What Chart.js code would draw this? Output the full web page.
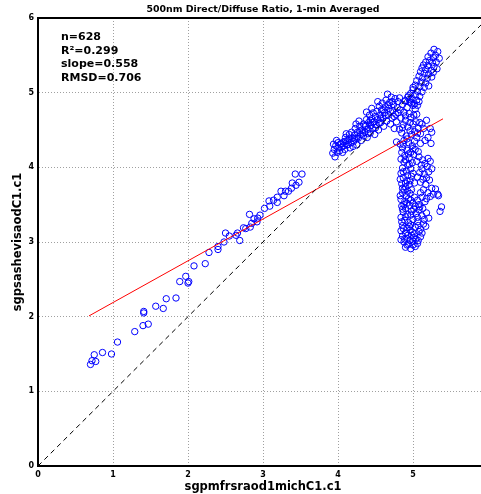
<!DOCTYPE html>
<html>
<head>
<meta charset="utf-8">
<script src="https://cdn.jsdelivr.net/npm/chart.js@4.4.1/dist/chart.umd.min.js"></script>
<style>
  html, body { margin: 0; padding: 0; background: #fff; overflow: hidden; }
  #wrap { width: 481px; height: 494px; overflow: hidden; }
</style>
</head>
<body>
<div id="wrap"><canvas id="scatterChart" width="495" height="494"></canvas></div>
<script>
// --- chart data ---
const chartTitle = '500nm Direct/Diffuse Ratio, 1-min Averaged';
const xTitle = 'sgpmfrsraod1michC1.c1';
const yTitle = 'sgpsashevisaodC1.c1';
const statLines = ['n=628', 'R\u00b2=0.299', 'slope=0.558', 'RMSD=0.706'];
const axisTicks = [0, 1, 2, 3, 4, 5, 6];

// linear fit (red) and 1:1 line (dashed)
const fitX = [0.68, 5.40];
const fitY = [2.01, 4.65];
const oneToOneX = [0, 6];
const oneToOneY = [0, 6];

// scattered low part
const lowPoints = [
  [0.70,1.36],[0.72,1.41],[0.75,1.49],[0.77,1.40],[0.86,1.52],[0.98,1.50],[1.06,1.66],
  [1.29,1.80],[1.40,1.88],[1.47,1.90],[1.41,2.05],[1.41,2.07],[1.57,2.14],[1.67,2.11],
  [1.71,2.24],[1.84,2.25],[1.89,2.47],[1.97,2.54],[2.00,2.45],[2.01,2.47],[2.08,2.68],
  [2.23,2.71],[2.28,2.86],[2.40,2.90],[2.40,2.94],[2.48,3.00],[2.50,3.12],[2.55,3.08],
  [2.64,3.09],[2.66,3.12],[2.69,3.02],[2.74,3.19],[2.77,3.18],[2.82,3.37],[2.83,3.20],
  [2.85,3.25],[2.88,3.31],[2.92,3.27],[2.93,3.32],[2.96,3.36],[3.02,3.45],[3.09,3.48],
  [3.08,3.55],[3.14,3.56],[3.19,3.60],[3.19,3.53],[3.24,3.68],[3.28,3.62],[3.30,3.68],
  [3.34,3.68],[3.38,3.72],[3.39,3.79],[3.44,3.76],[3.48,3.80],[3.43,3.91],[3.52,3.91]
];

// rising band 3.9 - 4.8
const bandPoints = [
  [3.93,4.19],[3.95,4.24],[3.97,4.29],[3.94,4.31],[3.99,4.20],[4.00,4.26],[3.96,4.14],
  [4.02,4.22],[4.03,4.31],[4.05,4.27],[3.98,4.36],[4.07,4.34],[4.09,4.24],[4.10,4.40],
  [4.12,4.30],[4.13,4.36],[4.15,4.44],[4.16,4.26],[4.17,4.33],[4.19,4.39],[4.11,4.45],
  [4.08,4.29],[4.18,4.47],[4.21,4.35],[4.22,4.43],[4.23,4.52],[4.25,4.30],[4.26,4.47],
  [4.27,4.39],[4.29,4.55],[4.30,4.44],[4.31,4.36],[4.32,4.50],[4.34,4.58],[4.34,4.42],
  [4.24,4.58],[4.28,4.62],[4.36,4.47],[4.37,4.55],[4.38,4.64],[4.39,4.40],[4.40,4.51],
  [4.41,4.60],[4.42,4.70],[4.43,4.46],[4.44,4.56],[4.45,4.65],[4.46,4.52],[4.47,4.73],
  [4.48,4.61],[4.49,4.44],[4.50,4.68],[4.38,4.74],[4.45,4.79],[4.51,4.57],[4.52,4.75],
  [4.53,4.64],[4.54,4.50],[4.55,4.82],[4.56,4.70],[4.57,4.60],[4.58,4.77],[4.59,4.86],
  [4.60,4.66],[4.61,4.55],[4.62,4.73],[4.63,4.81],[4.64,4.90],[4.65,4.62],[4.53,4.88],
  [4.66,4.98],[4.67,4.70],[4.68,4.79],[4.69,4.87],[4.70,4.58],[4.71,4.94],[4.72,4.66],
  [4.73,4.76],[4.74,4.84],[4.75,4.52],[4.76,4.92],[4.77,4.71],[4.78,4.61],[4.79,4.80],
  [4.80,4.88],[4.78,4.34],[4.00,4.33],[4.06,4.20],[4.14,4.31],[4.20,4.28],[4.25,4.39],
  [4.33,4.46],[4.40,4.45],[4.46,4.60],[4.55,4.59],[4.60,4.77],[4.67,4.84],[4.72,4.88],
  [4.82,4.93],[4.80,4.73],[4.75,4.68],[4.70,4.75],[4.63,4.69],[4.57,4.66],[4.50,4.53],
  [4.43,4.63],[4.36,4.56],[4.29,4.49],[4.22,4.38],[4.15,4.38],[4.10,4.35],[4.04,4.32]
];

// top cluster 4.9 - 5.6
const topPoints = [
  [5.28,5.58],[5.33,5.55],[5.24,5.53],[5.30,5.50],[5.20,5.48],[5.27,5.47],[5.35,5.46],
  [5.22,5.43],[5.17,5.41],[5.26,5.40],[5.31,5.41],[5.14,5.37],[5.20,5.36],[5.28,5.35],
  [5.12,5.33],[5.17,5.31],[5.24,5.30],[5.32,5.32],[5.10,5.28],[5.15,5.26],[5.21,5.25],
  [5.27,5.27],[5.08,5.22],[5.13,5.20],[5.19,5.19],[5.25,5.21],[5.05,5.16],[5.11,5.14],
  [5.17,5.13],[5.03,5.10],[5.09,5.08],[5.15,5.07],[5.21,5.09],[5.00,5.04],[5.06,5.02],
  [5.12,5.01],[4.97,4.99],[5.03,4.97],[5.09,4.95],[4.93,4.94],[4.99,4.92],[5.05,4.90],
  [4.90,4.89],[4.96,4.87],[5.02,4.85],[5.08,4.88],[4.94,4.96],[5.00,5.07]
];

// vertical column near x = 5
const columnPoints = [
  [4.86,4.84],[4.92,4.80],[4.98,4.86],[5.03,4.78],[4.88,4.74],[4.95,4.72],[5.06,4.83],
  [5.01,4.70],[4.84,4.66],[4.90,4.63],[4.97,4.67],[5.04,4.61],[4.87,4.57],[4.93,4.54],
  [5.00,4.58],[5.07,4.52],[4.82,4.51],[4.96,4.49],[4.85,4.46],[4.91,4.42],[4.98,4.44],
  [5.05,4.40],[4.88,4.36],[4.94,4.33],[5.02,4.35],[4.83,4.31],[4.99,4.29],[5.14,4.52],
  [5.18,4.63],[5.23,4.52],[5.25,4.47],[5.24,4.32],[5.10,4.45],[5.12,4.58],[5.20,4.40],
  [5.16,4.36],[4.86,4.26],[4.92,4.23],[4.97,4.20],[5.03,4.24],[4.89,4.16],[4.95,4.13],
  [5.01,4.17],[4.84,4.11],[5.08,4.14],[5.13,4.10],[5.20,4.12],[5.16,4.05],[5.23,4.08],
  [4.88,4.07],[4.93,4.03],[4.99,4.06],[4.86,3.99],[4.91,3.95],[4.97,3.98],[5.06,3.87],
  [4.84,3.92],[5.12,3.98],[5.19,4.01],[5.21,3.94],[5.15,3.91],[5.25,3.98],[5.18,3.86],
  [4.87,3.86],[4.92,3.82],[4.98,3.88],[4.85,3.78],[4.90,3.74],[4.95,3.77],[5.02,3.79],
  [4.88,3.70],[5.10,3.80],[5.17,3.77],[5.22,3.83],[5.25,3.72],[5.14,3.70],[5.20,3.66],
  [5.27,3.64],[5.33,3.64],[5.30,3.71],[4.86,3.66],[4.91,3.62],[4.96,3.65],[5.02,3.60],
  [4.84,3.57],[4.89,3.54],[4.94,3.58],[5.00,3.52],[5.06,3.56],[5.12,3.60],[5.18,3.58],
  [5.23,3.61],[5.34,3.62],[5.08,3.50],[4.85,3.48],[4.90,3.45],[4.95,3.49],[5.01,3.44],
  [5.09,3.47],[5.08,3.43],[4.87,3.40],[4.93,3.37],[4.98,3.41],[5.04,3.38],[5.12,3.35],
  [5.18,3.39],[4.84,3.33],[5.38,3.47],[5.36,3.41],[5.21,3.32],[4.89,3.29],[4.94,3.26],
  [5.00,3.30],[5.06,3.27],[5.14,3.24],[4.86,3.22],[4.92,3.19],[4.97,3.23],[5.03,3.20],
  [5.10,3.17],[5.17,3.21],[4.84,3.15],[4.90,3.12],[4.96,3.16],[5.02,3.11],[5.08,3.14],
  [4.86,3.08],[4.92,3.05],[4.98,3.09],[5.04,3.04],[4.88,3.00],[4.94,2.97],[5.00,3.01],
  [5.06,2.98],[4.90,2.93],[4.97,2.91],[5.03,2.94],[4.84,3.03],[5.10,3.07],
  [4.89,4.89],[4.95,4.91],[5.00,4.83],[4.83,4.77],[4.90,4.69],[4.96,4.60],[4.86,4.53],
  [5.02,4.48],[4.92,4.38],[4.87,4.31],[5.00,4.25],[4.94,4.18],[4.85,4.20],[4.90,4.10],
  [5.05,4.08],[4.95,4.04],[4.87,3.94],[5.00,3.92],[4.93,3.89],[4.83,3.84],[4.96,3.82],
  [4.90,3.79],[4.86,3.72],[4.98,3.70],[4.93,3.68],[4.83,3.62],[4.97,3.56],[4.88,3.50],
  [4.92,3.52],[5.03,3.48],[4.86,3.44],[4.97,3.36],[4.90,3.34],[5.06,3.33],[4.85,3.27],
  [4.95,3.21],[5.07,3.22],[4.87,3.18],[4.99,3.13],[4.93,3.09],[5.01,3.06],[4.89,3.04],
  [4.96,3.02],[4.92,2.96],[5.00,2.96],[5.07,3.02],[5.12,3.12],[5.15,3.30],[5.13,3.45],
  [5.16,3.54],[5.10,3.66],[5.13,3.84],[5.09,3.93],[5.11,4.03],[5.07,4.21],[5.10,4.32],
  [5.06,4.46],[5.09,4.60],[5.05,4.71]
];

const FONT = "'DejaVu Sans', sans-serif";

function toXY(xs, ys) {
  return xs.map((x, i) => ({ x: x, y: ys[i] }));
}
const scatterData = [].concat(lowPoints, bandPoints, topPoints, columnPoints)
  .map(p => ({ x: p[0], y: p[1] }));

// title, axis titles, stats box and top frame line
const decorations = {
  id: 'decorations',
  afterDraw(chart) {
    const ctx = chart.ctx;
    const area = chart.chartArea;
    const cx = (area.left + area.right) / 2;
    ctx.save();
    ctx.fillStyle = '#000';

    // frame top + right
    ctx.strokeStyle = '#000';
    ctx.lineWidth = 2;
    ctx.beginPath();
    ctx.moveTo(area.left - 1, area.top);
    ctx.lineTo(area.right + 1, area.top);
    ctx.moveTo(area.right, area.top);
    ctx.lineTo(area.right, area.bottom);
    ctx.stroke();

    ctx.textAlign = 'center';
    ctx.textBaseline = 'middle';
    ctx.font = 'bold 9.4px ' + FONT;
    ctx.fillText(chartTitle, cx, 10);

    ctx.font = 'bold 11.5px ' + FONT;
    ctx.fillText(xTitle, cx, 487);

    ctx.save();
    ctx.translate(18, (area.top + area.bottom) / 2);
    ctx.rotate(-Math.PI / 2);
    ctx.fillText(yTitle, 0, 0);
    ctx.restore();

    ctx.textAlign = 'left';
    ctx.textBaseline = 'alphabetic';
    ctx.font = 'bold 11px ' + FONT;
    const baselines = [40, 53.5, 67, 80.5];
    statLines.forEach((t, i) => ctx.fillText(t, 61, baselines[i]));
    ctx.restore();
  }
};

const axisOpts = (isX) => ({
  type: 'linear',
  min: 0,
  max: 6,
  afterBuildTicks: (scale) => { scale.ticks = axisTicks.map(v => ({ value: v })); },
  afterFit: (scale) => {
    if (isX) scale.height = 28; else scale.width = 38;
  },
  grid: {
    color: '#a0a0a0',
    lineWidth: 1,
    drawTicks: false
  },
  // in v4 border.dash styles the grid lines; the axis line stays solid
  border: { display: true, color: '#000', width: 2, dash: [1, 2] },
  ticks: {
    color: '#000',
    padding: 4,
    font: { family: FONT, size: 8, weight: 'bold' },
    callback: (v) => String(v)
  }
});

new Chart(document.getElementById('scatterChart'), {
  type: 'scatter',
  data: {
    datasets: [
      {
        label: '1:1',
        type: 'line',
        data: toXY(oneToOneX, oneToOneY),
        borderColor: '#000',
        borderWidth: 1,
        borderDash: [5, 4],
        pointRadius: 0,
        fill: false
      },
      {
        label: 'fit',
        type: 'line',
        data: toXY(fitX, fitY),
        borderColor: '#ff0000',
        borderWidth: 1,
        pointRadius: 0,
        fill: false
      },
      {
        label: 'obs',
        data: scatterData,
        pointStyle: 'circle',
        pointRadius: 3.2,
        borderColor: 'rgb(0,0,255)',
        borderWidth: 1,
        backgroundColor: 'rgba(0,0,0,0)'
      }
    ]
  },
  options: {
    responsive: false,
    animation: false,
    events: [],
    layout: { padding: { top: 18, right: 7, left: 0, bottom: 0 } },
    plugins: {
      legend: { display: false },
      title: { display: false },
      tooltip: { enabled: false }
    },
    scales: { x: axisOpts(true), y: axisOpts(false) }
  },
  plugins: [decorations]
});
</script>
</body>
</html>
